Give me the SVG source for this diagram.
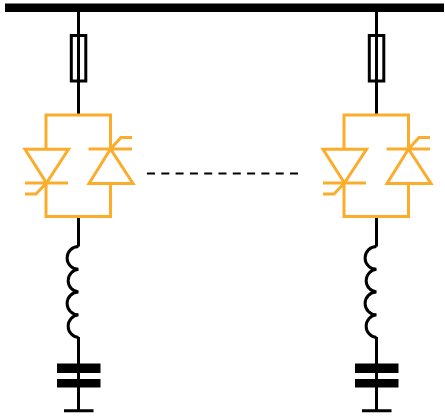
<svg xmlns="http://www.w3.org/2000/svg" width="445" height="418" viewBox="0 0 445 418">
<style>
.w{fill:none;stroke:#000;stroke-width:3}
.o{fill:none;stroke:#fcac2b;stroke-width:3}
.p{fill:#000;stroke:none}
</style>
<defs>
<g id="branch">
<path class="w" d="M78.500 12V115M78.500 216V246.500M78.500 337V411M64 410.800H93.500"/>
<rect class="w" x="71.300" y="35.500" width="14.500" height="45.500"/>
<path class="w" d="M78.500 246.500A11.400 11.400 0 0 0 78.500 269.300A11.400 11.400 0 0 0 78.500 292A11.400 11.400 0 0 0 78.500 314.800A11.400 11.400 0 0 0 78.500 337.500"/>
<rect class="p" x="57" y="363.500" width="43.500" height="9.500"/>
<rect class="p" x="57" y="379" width="43.500" height="8.500"/>
<path class="o" d="M46 149V115H110.500V149M110.500 183.500V216.500H46V183"/>
<path class="o" d="M25 149.300H68.500L46.500 183ZM25 183H68M46.500 183L36 194H25"/>
<path class="o" d="M89 183.500H133L110.500 149ZM88.500 149H132M110.500 149L121 137.500H132"/>
</g>
</defs>
<rect id="bus" x="5" y="3.500" width="439" height="8.500" fill="#000"/>
<g id="connectors">
<path d="M147 173.500H298" fill="none" stroke="#000" stroke-width="2" stroke-dasharray="8 6.300"/>
</g>
<g id="branch-left"><use href="#branch"/></g>
<g id="branch-right"><use href="#branch" x="298"/></g>
</svg>
